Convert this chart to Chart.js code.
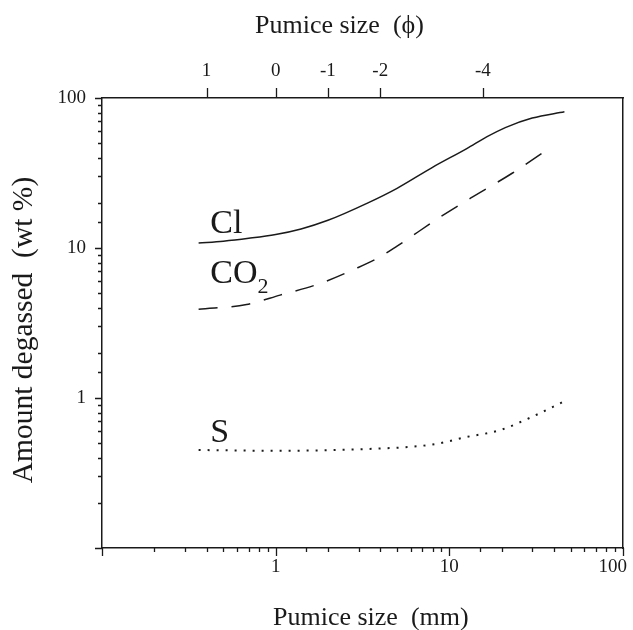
<!DOCTYPE html>
<html>
<head>
<meta charset="utf-8">
<script src="https://cdn.jsdelivr.net/npm/chart.js@4.4.0/dist/chart.umd.min.js"></script>
<style>
  html, body { margin: 0; padding: 0; background: #fff; }
</style>
</head>
<body>
<canvas id="degas" width="633" height="630"></canvas>
<script>
// Pumice size (mm) vs amount degassed (wt %)
const clSize    = [0.36, 0.5, 0.7, 1, 1.4, 2, 3.4, 5, 8, 12.6, 16.4, 21, 30, 46];
const clAmount  = [10.8, 11.1, 11.6, 12.3, 13.4, 15.3, 20, 25, 34.5, 46, 55, 63.5, 73.5, 81];

const co2Size   = [0.36, 0.68, 1.06, 1.8, 2.9, 3.9, 5, 8.8, 13.7, 23, 38];
const co2Amount = [3.9, 4.2, 4.85, 5.8, 7.3, 8.6, 10.3, 16, 22, 31.5, 46.5];

const sSize     = [0.36, 1, 3, 8, 12.6, 19.5, 30, 45];
const sAmount   = [0.45, 0.445, 0.455, 0.49, 0.55, 0.61, 0.75, 0.94];

// phi scale on top, placed at mm positions
const phiTickMm  = [0.4, 1, 2, 4, 15.6];
const phiLabels  = ['1', '0', '-1', '-2', '-4'];
const decadeLabels = [1, 10, 100];

const ink = '#1a1a1a';
const serif = "'Liberation Serif', 'Times New Roman', serif";

const toPoints = (xs, ys) => xs.map((v, i) => ({ x: v, y: ys[i] }));
const isDecade = v => Math.abs(Math.log10(v) - Math.round(Math.log10(v))) < 1e-6;
const decadeLabel = v => decadeLabels.some(d => Math.abs(d - v) < 1e-6) ? String(Math.round(v)) : '';

// tick marks: long at decades, short in between; bottom labels too,
// so the last one can sit inside the canvas
const tickMarks = {
    id: 'tickMarks',
    afterDraw(chart) {
        const { ctx, scales: { x, y, x2 } } = chart;
        ctx.save();
        ctx.strokeStyle = ink;
        ctx.lineWidth = 1.3;
        ctx.beginPath();
        x.ticks.forEach(t => {
            const px = Math.round(x.getPixelForValue(t.value)) + 0.5;
            ctx.moveTo(px, x.top);
            ctx.lineTo(px, x.top + (isDecade(t.value) ? 8 : 4));
        });
        y.ticks.forEach(t => {
            const py = Math.round(y.getPixelForValue(t.value)) + 0.5;
            ctx.moveTo(y.right, py);
            ctx.lineTo(y.right - (isDecade(t.value) ? 7 : 4), py);
        });
        x2.ticks.forEach(t => {
            const px = Math.round(x2.getPixelForValue(t.value)) + 0.5;
            ctx.moveTo(px, x2.bottom);
            ctx.lineTo(px, x2.bottom - 10);
        });
        ctx.stroke();

        ctx.fillStyle = ink;
        ctx.font = '19px ' + serif;
        ctx.textBaseline = 'alphabetic';
        decadeLabels.forEach(v => {
            const px = x.getPixelForValue(v);
            const last = px > chart.width - 25;
            ctx.textAlign = last ? 'right' : 'center';
            ctx.fillText(String(v), last ? chart.width - 6 : px, x.top + 24);
        });
        ctx.restore();
    }
};

// axis titles and curve names
const annotations = {
    id: 'annotations',
    afterDraw(chart) {
        const { ctx, scales: { x, y } } = chart;
        ctx.save();
        ctx.fillStyle = ink;
        ctx.textBaseline = 'alphabetic';

        ctx.font = '26px ' + serif;
        ctx.textAlign = 'left';
        ctx.fillText('Pumice size  (\u03D5)', 255, 33);
        ctx.fillText('Pumice size  (mm)', 273, 625);

        ctx.save();
        ctx.translate(32, 330);
        ctx.rotate(-Math.PI / 2);
        ctx.font = '29.5px ' + serif;
        ctx.textAlign = 'center';
        ctx.fillText('Amount degassed  (wt %)', 0, 0);
        ctx.restore();

        const lx = x.getPixelForValue(0.42);
        ctx.font = '34px ' + serif;
        ctx.fillText('Cl', lx, y.getPixelForValue(12.6));
        const coY = y.getPixelForValue(5.8);
        ctx.fillText('CO', lx, coY);
        const coW = ctx.measureText('CO').width;
        ctx.font = '22px ' + serif;
        ctx.fillText('2', lx + coW, coY + 10);
        ctx.font = '34px ' + serif;
        ctx.fillText('S', lx, y.getPixelForValue(0.51));
        ctx.restore();
    }
};

const lineStyle = {
    showLine: true,
    pointRadius: 0,
    borderColor: ink,
    backgroundColor: ink,
    fill: false,
    cubicInterpolationMode: 'monotone'
};

// keep edge labels from shrinking the plot box
const noEdgePadding = s => { s.paddingLeft = 0; s.paddingRight = 0; };

new Chart(document.getElementById('degas').getContext('2d'), {
    type: 'scatter',
    data: {
        datasets: [
            { ...lineStyle, label: 'Cl', data: toPoints(clSize, clAmount), borderWidth: 1.5 },
            { ...lineStyle, label: 'CO2', data: toPoints(co2Size, co2Amount), borderWidth: 1.5, borderDash: [19, 14] },
            { ...lineStyle, label: 'S', data: toPoints(sSize, sAmount), borderWidth: 2, borderDash: [2, 7] }
        ]
    },
    options: {
        responsive: false,
        animation: false,
        devicePixelRatio: 1,
        layout: { padding: { left: 0, right: 10, top: 0, bottom: 0 } },
        plugins: {
            legend: { display: false },
            tooltip: { enabled: false }
        },
        scales: {
            x: {
                type: 'logarithmic',
                position: 'bottom',
                min: 0.1,
                max: 100,
                grid: { display: false },
                border: { display: true, color: ink, width: 1.5 },
                ticks: { display: false, autoSkip: false },
                afterFit: s => { s.height = 82; noEdgePadding(s); }
            },
            x2: {
                type: 'logarithmic',
                position: 'top',
                min: 0.1,
                max: 100,
                grid: { display: false },
                border: { display: true, color: ink, width: 1.5 },
                afterBuildTicks: s => { s.ticks = phiTickMm.map(v => ({ value: v })); },
                ticks: {
                    autoSkip: false,
                    maxRotation: 0,
                    padding: 8,
                    color: ink,
                    font: { family: serif, size: 19 },
                    callback: (v, i) => phiLabels[i]
                },
                afterFit: s => { s.height = 98; noEdgePadding(s); }
            },
            y: {
                type: 'logarithmic',
                position: 'left',
                min: 0.1,
                max: 100,
                grid: { display: false },
                border: { display: true, color: ink, width: 1.5 },
                ticks: {
                    autoSkip: false,
                    padding: 8,
                    color: ink,
                    font: { family: serif, size: 19 },
                    callback: v => decadeLabel(v)
                },
                afterFit: s => { s.width = 102; }
            },
            y2: {
                type: 'linear',
                position: 'right',
                min: 0,
                max: 1,
                grid: { display: false },
                border: { display: true, color: ink, width: 1.5 },
                ticks: { display: false },
                afterFit: s => { s.width = 0; }
            }
        }
    },
    plugins: [tickMarks, annotations]
});
</script>
</body>
</html>
